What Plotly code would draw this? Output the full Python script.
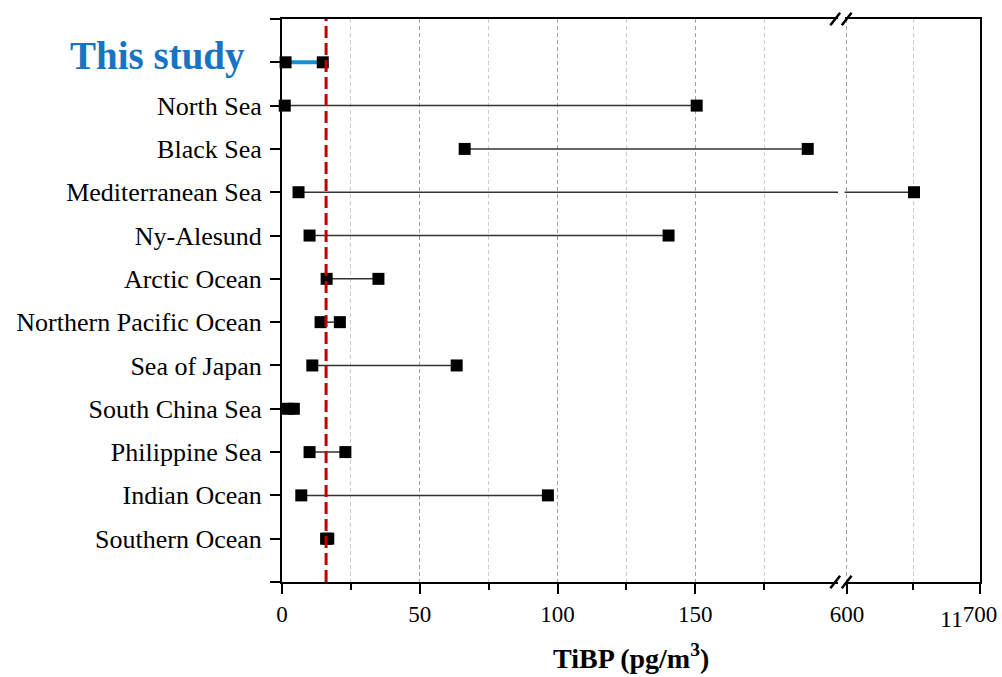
import plotly.graph_objects as go

sites = ["This study", "North Sea", "Black Sea", "Mediterranean Sea", "Ny-Alesund",
         "Arctic Ocean", "Northern Pacific Ocean", "Sea of Japan", "South China Sea",
         "Philippine Sea", "Indian Ocean", "Southern Ocean"]
min_vals = [1.3, 1.0, 66.3, 6.0, 10.0, 16.2, 14.0, 11.0, 2.2, 10.0, 7.0, 16.0]
max_vals = [14.8, 150.5, 190.8, 650.4, 140.3, 35.0, 21.0, 63.4, 4.3, 23.0, 96.5, 16.8]
ref_value = 16.0  # red dashed reference line

left_range = [0, 201.8]
right_range = [598.2, 700]
left_major = [0, 50, 100, 150]
left_minor = [25, 75, 125, 175]
right_major = [600, 700]
right_major_text = ["600", "700"]
right_minor = [650]

SERIF = "Liberation Serif, Times New Roman, serif"
ypos = list(range(len(sites)))

fig = go.Figure()

for axis_x, axis_y, rng in [("x", "y", left_range), ("x2", "y2", right_range)]:
    # range lines
    for i, (lo, hi) in enumerate(zip(min_vals, max_vals)):
        if i == 0:
            color, width = "#1093d4", 4
        else:
            color, width = "#333333", 1.5
        fig.add_trace(go.Scatter(x=[lo, hi], y=[i, i], mode="lines",
                                 line=dict(color=color, width=width),
                                 xaxis=axis_x, yaxis=axis_y, showlegend=False,
                                 hoverinfo="skip"))
    # markers within this axis range
    mx, my = [], []
    for i, (lo, hi) in enumerate(zip(min_vals, max_vals)):
        for v in (lo, hi):
            if rng[0] - 3 <= v <= rng[1] + 3:
                mx.append(v)
                my.append(i)
    fig.add_trace(go.Scatter(x=mx, y=my, mode="markers",
                             marker=dict(symbol="square", size=12, color="black",
                                         line=dict(width=0)),
                             cliponaxis=False,
                             xaxis=axis_x, yaxis=axis_y, showlegend=False))

d1_end = 0.7966
d2_start = 0.806

tick_font = dict(family=SERIF, size=23, color="black")

fig.update_layout(
    width=1002, height=677,
    margin=dict(l=282, r=22, t=19, b=95, autoexpand=False),
    plot_bgcolor="white", paper_bgcolor="white",
    xaxis=dict(domain=[0, d1_end], range=left_range, anchor="y", automargin=False,
               tickmode="array", tickvals=left_major,
               ticktext=[str(v) for v in left_major],
               ticks="outside", ticklen=10, tickwidth=2, tickcolor="black",
               showline=True, linewidth=2, linecolor="black", mirror=True,
               showgrid=True, gridcolor="#a0a0a0", griddash="4px,3px", gridwidth=1,
               zeroline=False, tickfont=tick_font,
               minor=dict(tickmode="array", tickvals=left_minor, ticks="outside",
                          ticklen=6, tickwidth=2, tickcolor="black",
                          showgrid=True, gridcolor="#cccccc", griddash="4px,3px",
                          gridwidth=1)),
    xaxis2=dict(domain=[d2_start, 1], range=right_range, anchor="y2", automargin=False,
                tickmode="array", tickvals=right_major, ticktext=right_major_text,
                ticks="outside", ticklen=10, tickwidth=2, tickcolor="black",
                showline=True, linewidth=2, linecolor="black", mirror=True,
                showgrid=True, gridcolor="#a0a0a0", griddash="4px,3px", gridwidth=1,
                zeroline=False, tickfont=tick_font,
                minor=dict(tickmode="array", tickvals=right_minor, ticks="outside",
                           ticklen=6, tickwidth=2, tickcolor="black",
                           showgrid=True, gridcolor="#cccccc", griddash="4px,3px",
                           gridwidth=1)),
    yaxis=dict(range=[12, -1], anchor="x", automargin=False,
               tickmode="array", tickvals=[-1] + ypos + [12],
               ticktext=[""] + [""] + sites[1:] + [""],
               ticks="outside", ticklen=10, tickwidth=2, tickcolor="black",
               showline=True, linewidth=2, linecolor="black",
               showgrid=False, zeroline=False,
               tickfont=dict(family=SERIF, size=26, color="black"),
               ticklabelstandoff=3),
    yaxis2=dict(range=[12, -1], anchor="x2", side="right", automargin=False,
                showline=True, linewidth=2, linecolor="black",
                showticklabels=False, ticks="", showgrid=False, zeroline=False),
)

# reference dashed line
fig.add_shape(type="line", xref="x", yref="paper", x0=ref_value, x1=ref_value,
              y0=0, y1=1, line=dict(color="#c00000", width=3, dash="12px,5px"),
              layer="above")

# axis break marks
for yb in (0, 1):
    fig.add_shape(type="line", xref="paper", yref="paper",
                  x0=d1_end, x1=d2_start, y0=yb, y1=yb,
                  line=dict(color="white", width=3), layer="above")
    for xb in (d1_end - 0.004, d2_start + 0.003):
        fig.add_shape(type="line", xref="paper", yref="paper",
                      x0=xb - 0.007, x1=xb + 0.007, y0=yb - 0.011, y1=yb + 0.011,
                      line=dict(color="black", width=2.5), layer="above")

# "This study" label
fig.add_annotation(text="<b>This study</b>", xref="paper", yref="y", x=0, y=0,
                   xanchor="right", yanchor="middle", xshift=-35, yshift=6,
                   showarrow=False,
                   font=dict(family=SERIF, size=39, color="#1874c2"))

# stray "11" before the last tick label
fig.add_annotation(text="11", xref="x2", yref="paper", x=700, y=0,
                   xanchor="right", yanchor="top", xshift=-15, yshift=-22,
                   showarrow=False, font=dict(family=SERIF, size=24, color="black"))

# axis title
fig.add_annotation(text="<b>TiBP (pg/m<sup>3</sup>)</b>", xref="paper", yref="paper",
                   x=0.5, y=0, xanchor="center", yanchor="bottom", yshift=-94,
                   showarrow=False, font=dict(family=SERIF, size=28, color="black"))

fig.write_html("out.html")
